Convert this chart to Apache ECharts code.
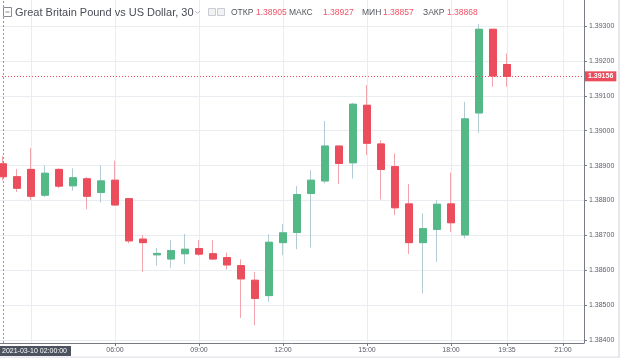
<!DOCTYPE html>
<html><head><meta charset="utf-8">
<script src="https://cdn.jsdelivr.net/npm/echarts@6/dist/echarts.min.js"></script>
<style>html,body{margin:0;padding:0;background:#fff}#c{width:620px;height:358px}</style>
</head><body><div id="c"></div>
<script>
// ---- data ----
const categories = ['02:00','02:30','03:00','03:30','04:00','04:30','05:00','05:30','06:00','06:30',
  '07:00','07:30','08:00','08:30','09:00','09:30','10:00','10:30','11:00','11:30',
  '12:00','12:30','13:00','13:30','14:00','14:30','15:00','15:30','16:00','16:30',
  '17:00','17:30','18:00','18:30','19:00','19:30','20:00','20:30','21:00','21:30','22:00','22:30'];
const opens  = [1.38905,1.38868,1.38889,1.38815,1.38889,1.38842,1.38862,1.38823,1.38858,1.38805,1.38689,1.38644,1.38632,1.38647,1.38662,1.38647,1.38636,1.38613,1.38571,1.38527,1.38679,1.38708,1.38820,1.38856,1.38956,1.38908,1.39073,1.38962,1.38897,1.38790,1.38679,1.38717,1.38790,1.38701,1.39051,1.39291,1.39190];
const closes = [1.38868,1.38835,1.38812,1.38878,1.38841,1.38865,1.38812,1.38856,1.38787,1.38684,1.38679,1.38648,1.38656,1.38660,1.38646,1.38632,1.38615,1.38575,1.38519,1.38680,1.38707,1.38817,1.38858,1.38956,1.38906,1.39076,1.38964,1.38889,1.38779,1.38679,1.38719,1.38789,1.38736,1.39034,1.39291,1.39157,1.39156];
const lows   = [1.38857,1.38824,1.38801,1.38810,1.38835,1.38828,1.38775,1.38794,1.38785,1.38677,1.38595,1.38613,1.38607,1.38617,1.38641,1.38629,1.38602,1.38463,1.38442,1.38509,1.38643,1.38660,1.38665,1.38849,1.38847,1.38863,1.38930,1.38803,1.38758,1.38646,1.38533,1.38624,1.38710,1.38691,1.38994,1.39126,1.39126];
const highs  = [1.38927,1.38890,1.38950,1.38901,1.38892,1.38892,1.38867,1.38901,1.38914,1.38806,1.38701,1.38664,1.38686,1.38704,1.38686,1.38686,1.38650,1.38631,1.38595,1.38703,1.38732,1.38841,1.38887,1.39028,1.38956,1.39080,1.39131,1.38973,1.38935,1.38847,1.38763,1.38801,1.38880,1.39083,1.39306,1.39291,1.39222];
const yTicks = [1.384,1.385,1.386,1.387,1.388,1.389,1.390,1.391,1.392,1.393];
const xTickIdx  = [8,14,20,26,32,36,40];
const xTickText = ['06:00','09:00','12:00','15:00','18:00','19:35','21:00'];
const gridLineIdx = [2,8,14,20,26,32,36,40];
const crosshairIdx = 0;
const crosshairText = '2021-03-10 02:00:00';
const title = 'Great Britain Pound vs US Dollar, 30';
const ohlcNames = ['ОТКР','МАКС','МИН','ЗАКР'];

// ---- styles ----
const UP = '#53b987', DOWN = '#eb4d5c';
const UP_WICK = '#b3cbd3', DOWN_WICK = '#f3a5ad';
const GRID = '#e9ecf1', AXIS = '#787b86', TXT = '#5d606b';
const FONT = 'Liberation Sans, Arial, sans-serif';

const full = opens.map((o,i)=>[o, closes[i], lows[i], highs[i]]);
const bodies = opens.map((o,i)=>[o, closes[i], Math.min(o,closes[i]), Math.max(o,closes[i])]);
const last = closes[closes.length-1];
const hdrVals = [opens[crosshairIdx], highs[crosshairIdx], lows[crosshairIdx], closes[crosshairIdx]];

const chart = echarts.init(document.getElementById('c'), null, {renderer:'canvas'});

const hdrX = [231, 289, 362, 423];
const hdrVX = [256, 323, 383, 447];
const graphics = [
  {type:'rect', shape:{x:3.5,y:7.5,width:8,height:9}, style:{fill:'#fff', stroke:'#8a8d96', lineWidth:1}, z:100},
  {type:'line', shape:{x1:5.5,y1:12,x2:9.5,y2:12}, style:{stroke:'#8a8d96', lineWidth:1}, z:100},
  {type:'text', x:15, y:12.5, style:{text:title, fill:'#4a4d57', font:'11px '+FONT, verticalAlign:'middle'}, z:100},
  {type:'polyline', shape:{points:[[195,11],[197.5,13.5],[200,11]]}, style:{stroke:'#b9bcc4', lineWidth:1, fill:null}, z:100},
  {type:'rect', shape:{x:208.5,y:8.5,width:7,height:7}, style:{fill:'#f1f2f4', stroke:'#c9ccd3', lineWidth:1}, z:100},
  {type:'rect', shape:{x:217.5,y:8.5,width:7,height:7}, style:{fill:'#f1f2f4', stroke:'#c9ccd3', lineWidth:1}, z:100},
  {type:'rect', shape:{x:0,y:346,width:71,height:10}, style:{fill:'#4c525e'}, z:100},
  {type:'text', x:2, y:351.5, style:{text:crosshairText, fill:'#fff', font:'7px '+FONT, verticalAlign:'middle'}, z:101},
  {type:'rect', shape:{x:586,y:343,width:34,height:15}, style:{fill:'#fff'}, z:99},
  {type:'rect', shape:{x:618,y:0,width:2,height:358}, style:{fill:'#e6e8ee'}, z:100},
  {type:'rect', shape:{x:0,y:356.5,width:620,height:1.5}, style:{fill:'#e6e8ee'}, z:100}
];
ohlcNames.forEach((n,i)=>{
  graphics.push({type:'text', x:hdrX[i], y:13, style:{text:n, fill:'#55585f', font:'8.5px '+FONT, verticalAlign:'middle'}, z:100});
  graphics.push({type:'text', x:hdrVX[i], y:13, style:{text:hdrVals[i].toFixed(5), fill:'#ef5365', font:'8.5px '+FONT, verticalAlign:'middle'}, z:100});
});

chart.setOption({
  animation:false,
  backgroundColor:'#fff',
  grid:{left:-4, right:36, top:0, bottom:15, containLabel:false, outerBoundsMode:'none'},
  xAxis:{
    type:'category', data:categories, boundaryGap:true,
    axisLine:{show:true, lineStyle:{color:AXIS}},
    axisTick:{show:true, alignWithLabel:true, length:3, interval:(i)=>xTickIdx.includes(i), lineStyle:{color:AXIS}},
    axisLabel:{interval:(i)=>xTickIdx.includes(i), formatter:(v,i)=>xTickText[xTickIdx.indexOf(i)]||'',
      fontSize:7, color:TXT, margin:4, fontFamily:FONT},
    splitLine:{show:false}
  },
  yAxis:{
    type:'value', position:'right', min:1.38391, max:1.39375, scale:true,
    axisLine:{show:true, lineStyle:{color:AXIS}},
    axisTick:{show:true, length:3, customValues:yTicks, lineStyle:{color:AXIS}},
    axisLabel:{customValues:yTicks, formatter:(v)=>v.toFixed(5), fontSize:7, color:TXT, margin:5, fontFamily:FONT},
    splitLine:{show:true, lineStyle:{color:GRID, width:1}}
  },
  graphic:graphics,
  series:[
    {
      name:'wick', type:'candlestick', data:full, barWidth:7, clip:false, z:2,
      itemStyle:{color:'transparent', color0:'transparent', borderColor:UP_WICK, borderColor0:DOWN_WICK, borderWidth:1},
      markLine:{
        silent:true, symbol:['none','none'], z:1, animation:false,
        label:{show:false},
        data:gridLineIdx.map(i=>({xAxis:categories[i], lineStyle:{color:GRID, type:'solid', width:1}}))
          .concat([{xAxis:categories[crosshairIdx], lineStyle:{color:'#9598a1', type:[2,2], width:1}}])
      }
    },
    {
      name:'body', type:'candlestick', data:bodies, barWidth:7, clip:false, z:3,
      itemStyle:{color:UP, color0:DOWN, borderColor:UP, borderColor0:DOWN, borderWidth:1},
      markLine:{
        silent:true, symbol:['none','none'], z:4, animation:false, precision:5,
        data:[{yAxis:last}],
        lineStyle:{color:DOWN, type:[1,2], width:1},
        label:{show:true, position:'end', formatter:()=>last.toFixed(5), backgroundColor:DOWN, color:'#fff',
          fontSize:7, fontWeight:'bold', fontFamily:FONT, padding:[2,3,1,3], distance:1}
      }
    }
  ]
});
</script></body></html>
